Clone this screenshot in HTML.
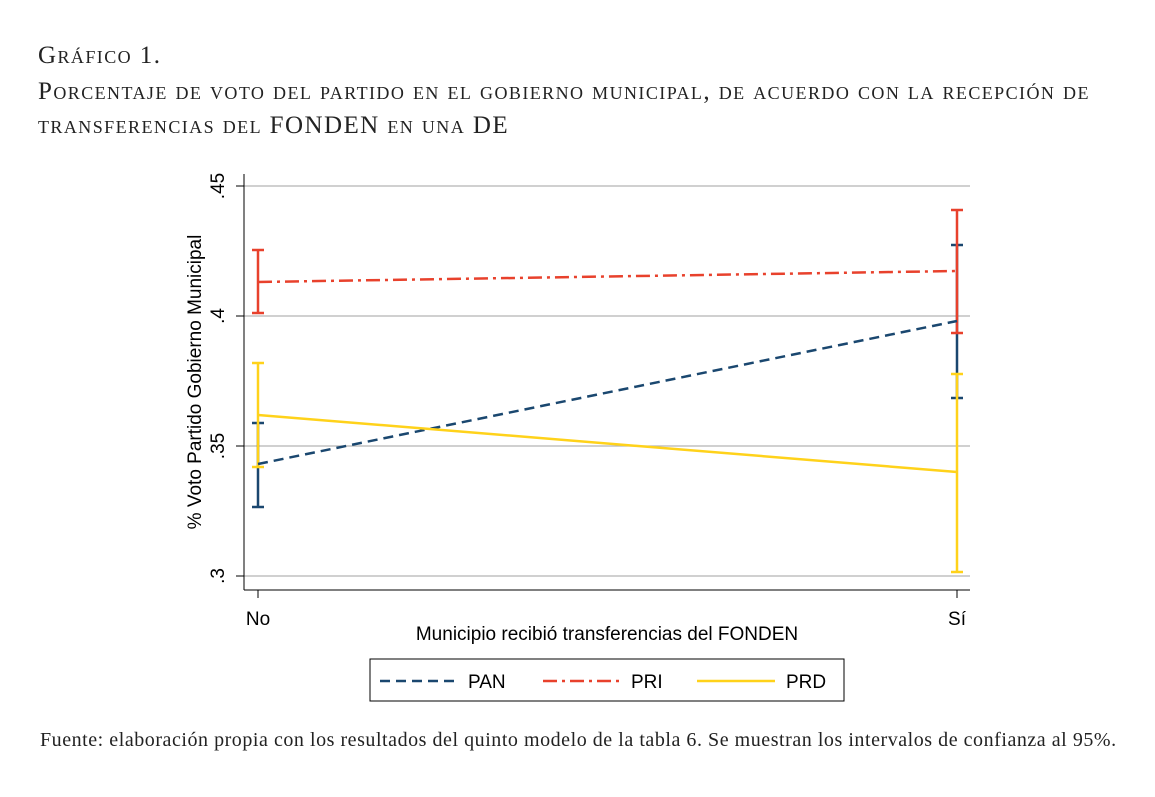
<!DOCTYPE html>
<html><head><meta charset="utf-8"><style>
body{margin:0;background:#fff;width:1155px;height:797px;overflow:hidden;position:relative;font-family:"Liberation Serif",serif;color:#222}
.t{position:absolute;left:38px;font-variant:small-caps;font-size:25px;letter-spacing:1.43px;white-space:nowrap}
.f{position:absolute;left:40px;top:729px;font-size:20px;letter-spacing:0.54px;white-space:nowrap}
svg{position:absolute;left:0;top:0}
</style></head><body>
<div class="t" style="top:42px">Gráfico 1.</div>
<div class="t" style="top:78px">Porcentaje de voto del partido en el gobierno municipal, de acuerdo con la recepción de</div>
<div class="t" style="top:112px">transferencias del FONDEN en una DE</div>
<svg width="1155" height="797" font-family="Liberation Sans, sans-serif">
<g stroke="#b5b5b5" stroke-width="1.3">
<line x1="244" x2="970" y1="186" y2="186"/><line x1="244" x2="970" y1="316" y2="316"/>
<line x1="244" x2="970" y1="446" y2="446"/><line x1="244" x2="970" y1="576" y2="576"/>
</g>
<g stroke="#000" stroke-width="1">
<line x1="244" x2="244" y1="174" y2="590"/><line x1="244" x2="970" y1="590" y2="590"/>
<line x1="236" x2="244" y1="186" y2="186"/><line x1="236" x2="244" y1="316" y2="316"/>
<line x1="236" x2="244" y1="446" y2="446"/><line x1="236" x2="244" y1="576" y2="576"/>
<line x1="258" x2="258" y1="590" y2="598"/><line x1="957" x2="957" y1="590" y2="598"/>
</g>
<g font-size="19" fill="#000">
<text transform="translate(224,186) rotate(-90)" text-anchor="middle">.45</text>
<text transform="translate(224,316) rotate(-90)" text-anchor="middle">.4</text>
<text transform="translate(224,446) rotate(-90)" text-anchor="middle">.35</text>
<text transform="translate(224,576) rotate(-90)" text-anchor="middle">.3</text>
<text transform="translate(201,382) rotate(-90)" text-anchor="middle">% Voto Partido Gobierno Municipal</text>
<text x="258" y="625" text-anchor="middle">No</text>
<text x="957" y="625" text-anchor="middle">Sí</text>
<text x="607" y="640" text-anchor="middle">Municipio recibió transferencias del FONDEN</text>
</g>
<g stroke-width="2.5" fill="none">
<g stroke="#1a476f"><path d="M258 423V507M252 423h12M252 507h12M957 245V398M951 245h12M951 398h12"/></g>
<g stroke="#e8412c"><path d="M258 250V313M252 250h12M252 313h12M957 210V333M951 210h12M951 333h12"/></g>
<g stroke="#ffd21a"><path d="M258 363V467M252 363h12M252 467h12M957 374V572M951 374h12M951 572h12"/></g>
</g>
<g stroke-width="2.5" fill="none">
<line x1="258" y1="464" x2="957" y2="321" stroke="#1a476f" stroke-dasharray="10,6"/>
<line x1="258" y1="282" x2="957" y2="271" stroke="#e8412c" stroke-dasharray="14,5,3,5"/>
<line x1="258" y1="415" x2="957" y2="472" stroke="#ffd21a"/>
</g>
<rect x="370" y="659" width="474" height="42" fill="#fff" stroke="#000" stroke-width="1"/>
<g stroke-width="2.5">
<line x1="380" x2="458" y1="681" y2="681" stroke="#1a476f" stroke-dasharray="10,6"/>
<line x1="543" x2="621" y1="681" y2="681" stroke="#e8412c" stroke-dasharray="14,5,3,5"/>
<line x1="697" x2="775" y1="681" y2="681" stroke="#ffd21a"/>
</g>
<g font-size="19" fill="#000">
<text x="468" y="688">PAN</text><text x="631" y="688">PRI</text><text x="786" y="688">PRD</text>
</g>
</svg>
<div class="f">Fuente: elaboración propia con los resultados del quinto modelo de la tabla 6. Se muestran los intervalos de confianza al 95%.</div>
</body></html>
